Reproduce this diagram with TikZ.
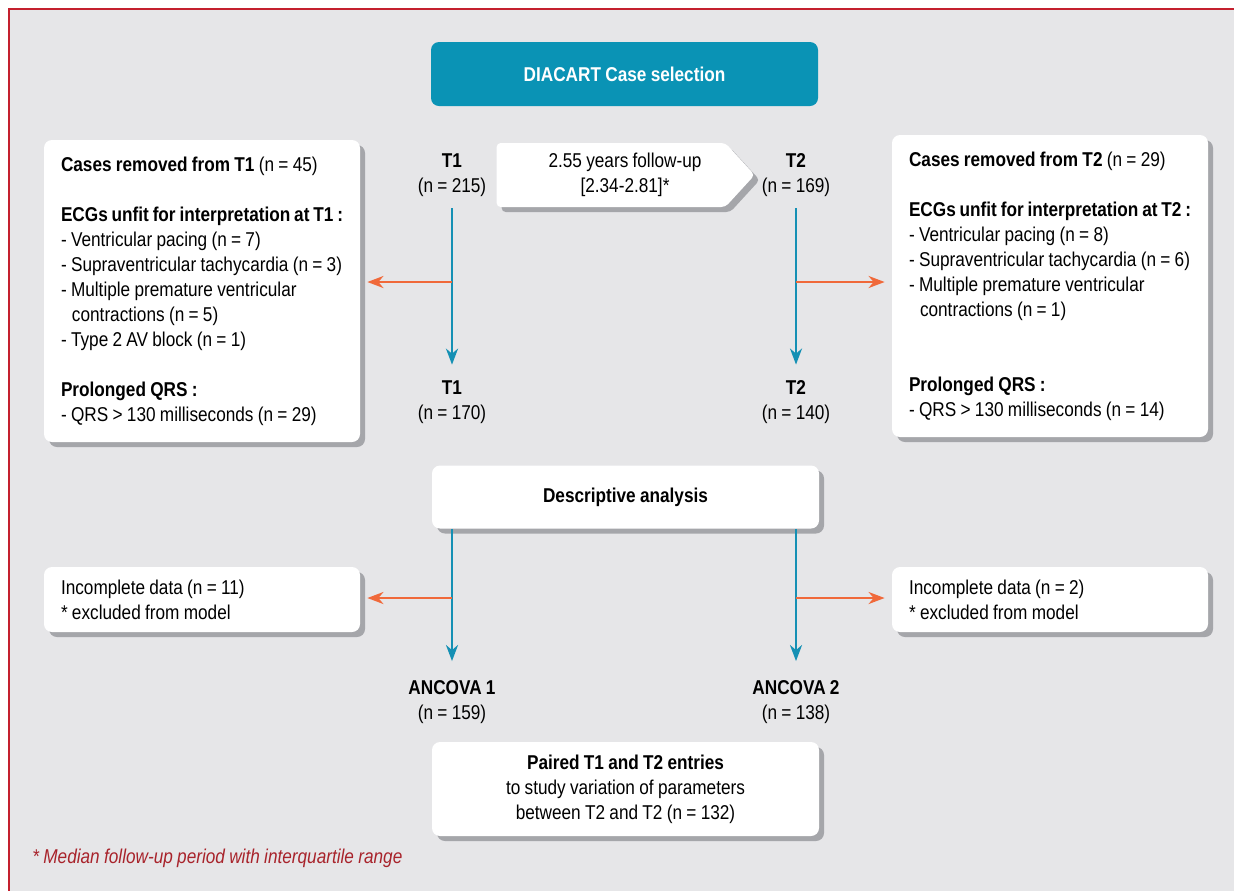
\documentclass[tikz,border=0pt]{standalone}
\usepackage{fontspec}
\setmainfont{Liberation Sans}[FakeStretch=0.86,WordSpace=0.9]
\usepackage{tikz}
\usetikzlibrary{arrows.meta,positioning,shapes.symbols,shadows}
\definecolor{bggray}{HTML}{E6E6E8}
\definecolor{titleteal}{HTML}{0A93B5}
\definecolor{flowblue}{HTML}{1590B4}
\definecolor{droporange}{HTML}{F0693A}
\definecolor{framered}{HTML}{C4202E}
\definecolor{notered}{HTML}{A8232B}
\definecolor{shadowgray}{HTML}{A5A6AA}

\begin{document}
\begin{tikzpicture}[x=0.5pt,y=-0.5pt,
txt/.style={font=\fontsize{10}{12.5}\selectfont,align=center,inner sep=2pt},
wbox/.style={txt,fill=white,rounded corners=4pt,drop shadow={shadow xshift=2.5pt,shadow yshift=-2.5pt,fill=shadowgray,opacity=1}},
sidebox/.style={wbox,align=left,text width=141pt,inner xsep=8.5pt,minimum height=151pt,execute at begin node=\spaceskip0pt\relax},
flow/.style={-{Stealth[length=8pt,width=6pt,inset=2.5pt]},draw=flowblue,line width=1.2pt},
drop/.style={-{Stealth[length=8pt,width=6pt,inset=2.5pt]},draw=droporange,line width=1.2pt,shorten >=3.5pt}
]
\useasboundingbox (0,0) rectangle (1234,890);
\clip (0,0) rectangle (1234,890);
\fill[white] (0,0) rectangle (1234,890);
\draw[framered,line width=1.2pt,fill=bggray] (9,9) rectangle (1260,910);

\node[txt,fill=titleteal,text=white,rounded corners=4pt,minimum width=193.5pt,minimum height=32pt] (title) at (624.5,74) {\textbf{DIACART Case selection}};

\node[sidebox] (lbox) at (202,291) {\textbf{Cases removed from T1} (n = 45)\\[12.5pt]
\textbf{ECGs unfit for interpretation at T1 :}\\
- Ventricular pacing (n = 7)\\
- Supraventricular tachycardia (n = 3)\\
- Multiple premature ventricular\\
\hspace*{0.55em}contractions (n = 5)\\
- Type 2 AV block (n = 1)\\[12.5pt]
\textbf{Prolonged QRS :}\\
- QRS > 130 milliseconds (n = 29)};
\node[sidebox] (rbox) at (1050,286) {\textbf{Cases removed from T2} (n = 29)\\[12.5pt]
\textbf{ECGs unfit for interpretation at T2 :}\\
- Ventricular pacing (n = 8)\\
- Supraventricular tachycardia (n = 6)\\
- Multiple premature ventricular\\
\hspace*{0.55em}contractions (n = 1)\\[25pt]
\textbf{Prolonged QRS :}\\
- QRS > 130 milliseconds (n = 14)};

\node[txt] (t1a) at (452,175.5) {\textbf{T1}\\(n = 215)};
\node[txt] (t2a) at (796,175.5) {\textbf{T2}\\(n = 169)};
\node[wbox,shape=signal,signal to=east,signal pointer angle=95,minimum width=129pt,minimum height=32pt,rounded corners=2pt] (fu) at (611,175) {\hspace*{14pt}2.55 years follow-up\\\hspace*{14pt}[2.34-2.81]*};
\node[txt] (t1b) at (452,402.5) {\textbf{T1}\\(n = 170)};
\node[txt] (t2b) at (796,402.5) {\textbf{T2}\\(n = 140)};

\node[wbox,minimum width=193.5pt,minimum height=31.5pt] (desc) at (625.5,497) {\textbf{Descriptive analysis}};
\node[sidebox,minimum height=32.5pt] (linc) at (202,599.5) {Incomplete data (n = 11)\\{}* excluded from model};
\node[sidebox,minimum height=32.5pt] (rinc) at (1050,599.5) {Incomplete data (n = 2)\\{}* excluded from model};
\node[txt] (a1) at (452,702) {\textbf{ANCOVA 1}\\(n = 159)};
\node[txt] (a2) at (796,702) {\textbf{ANCOVA 2}\\(n = 138)};
\node[wbox,minimum width=193.5pt,minimum height=47pt] (pair) at (625.5,789) {\textbf{Paired T1 and T2 entries}\\to study variation of parameters\\between T2 and T2 (n = 132)};
\node[txt,anchor=west,text=notered,font=\fontsize{10}{12.5}\selectfont\itshape] (note) at (28,858) {* Median follow-up period with interquartile range};

\coordinate (j1) at (t1a.south |- 0,282);
\coordinate (j2) at (t2a.south |- 0,282);
\coordinate (k1) at (a1.north |- 0,598);
\coordinate (k2) at (a2.north |- 0,598);

\draw[flow,shorten <=3.5pt,shorten >=6pt] (t1a) -- (t1b);
\draw[flow,shorten <=3.5pt,shorten >=6pt] (t2a) -- (t2b);
\draw[drop] (j1) -- (j1 -| lbox.east);
\draw[drop] (j2) -- (j2 -| rbox.west);
\draw[flow,shorten >=7.5pt] (desc.south -| a1) -- (a1);
\draw[flow,shorten >=7.5pt] (desc.south -| a2) -- (a2);
\draw[drop] (k1) -- (k1 -| linc.east);
\draw[drop] (k2) -- (k2 -| rinc.west);
\end{tikzpicture}
\end{document}
